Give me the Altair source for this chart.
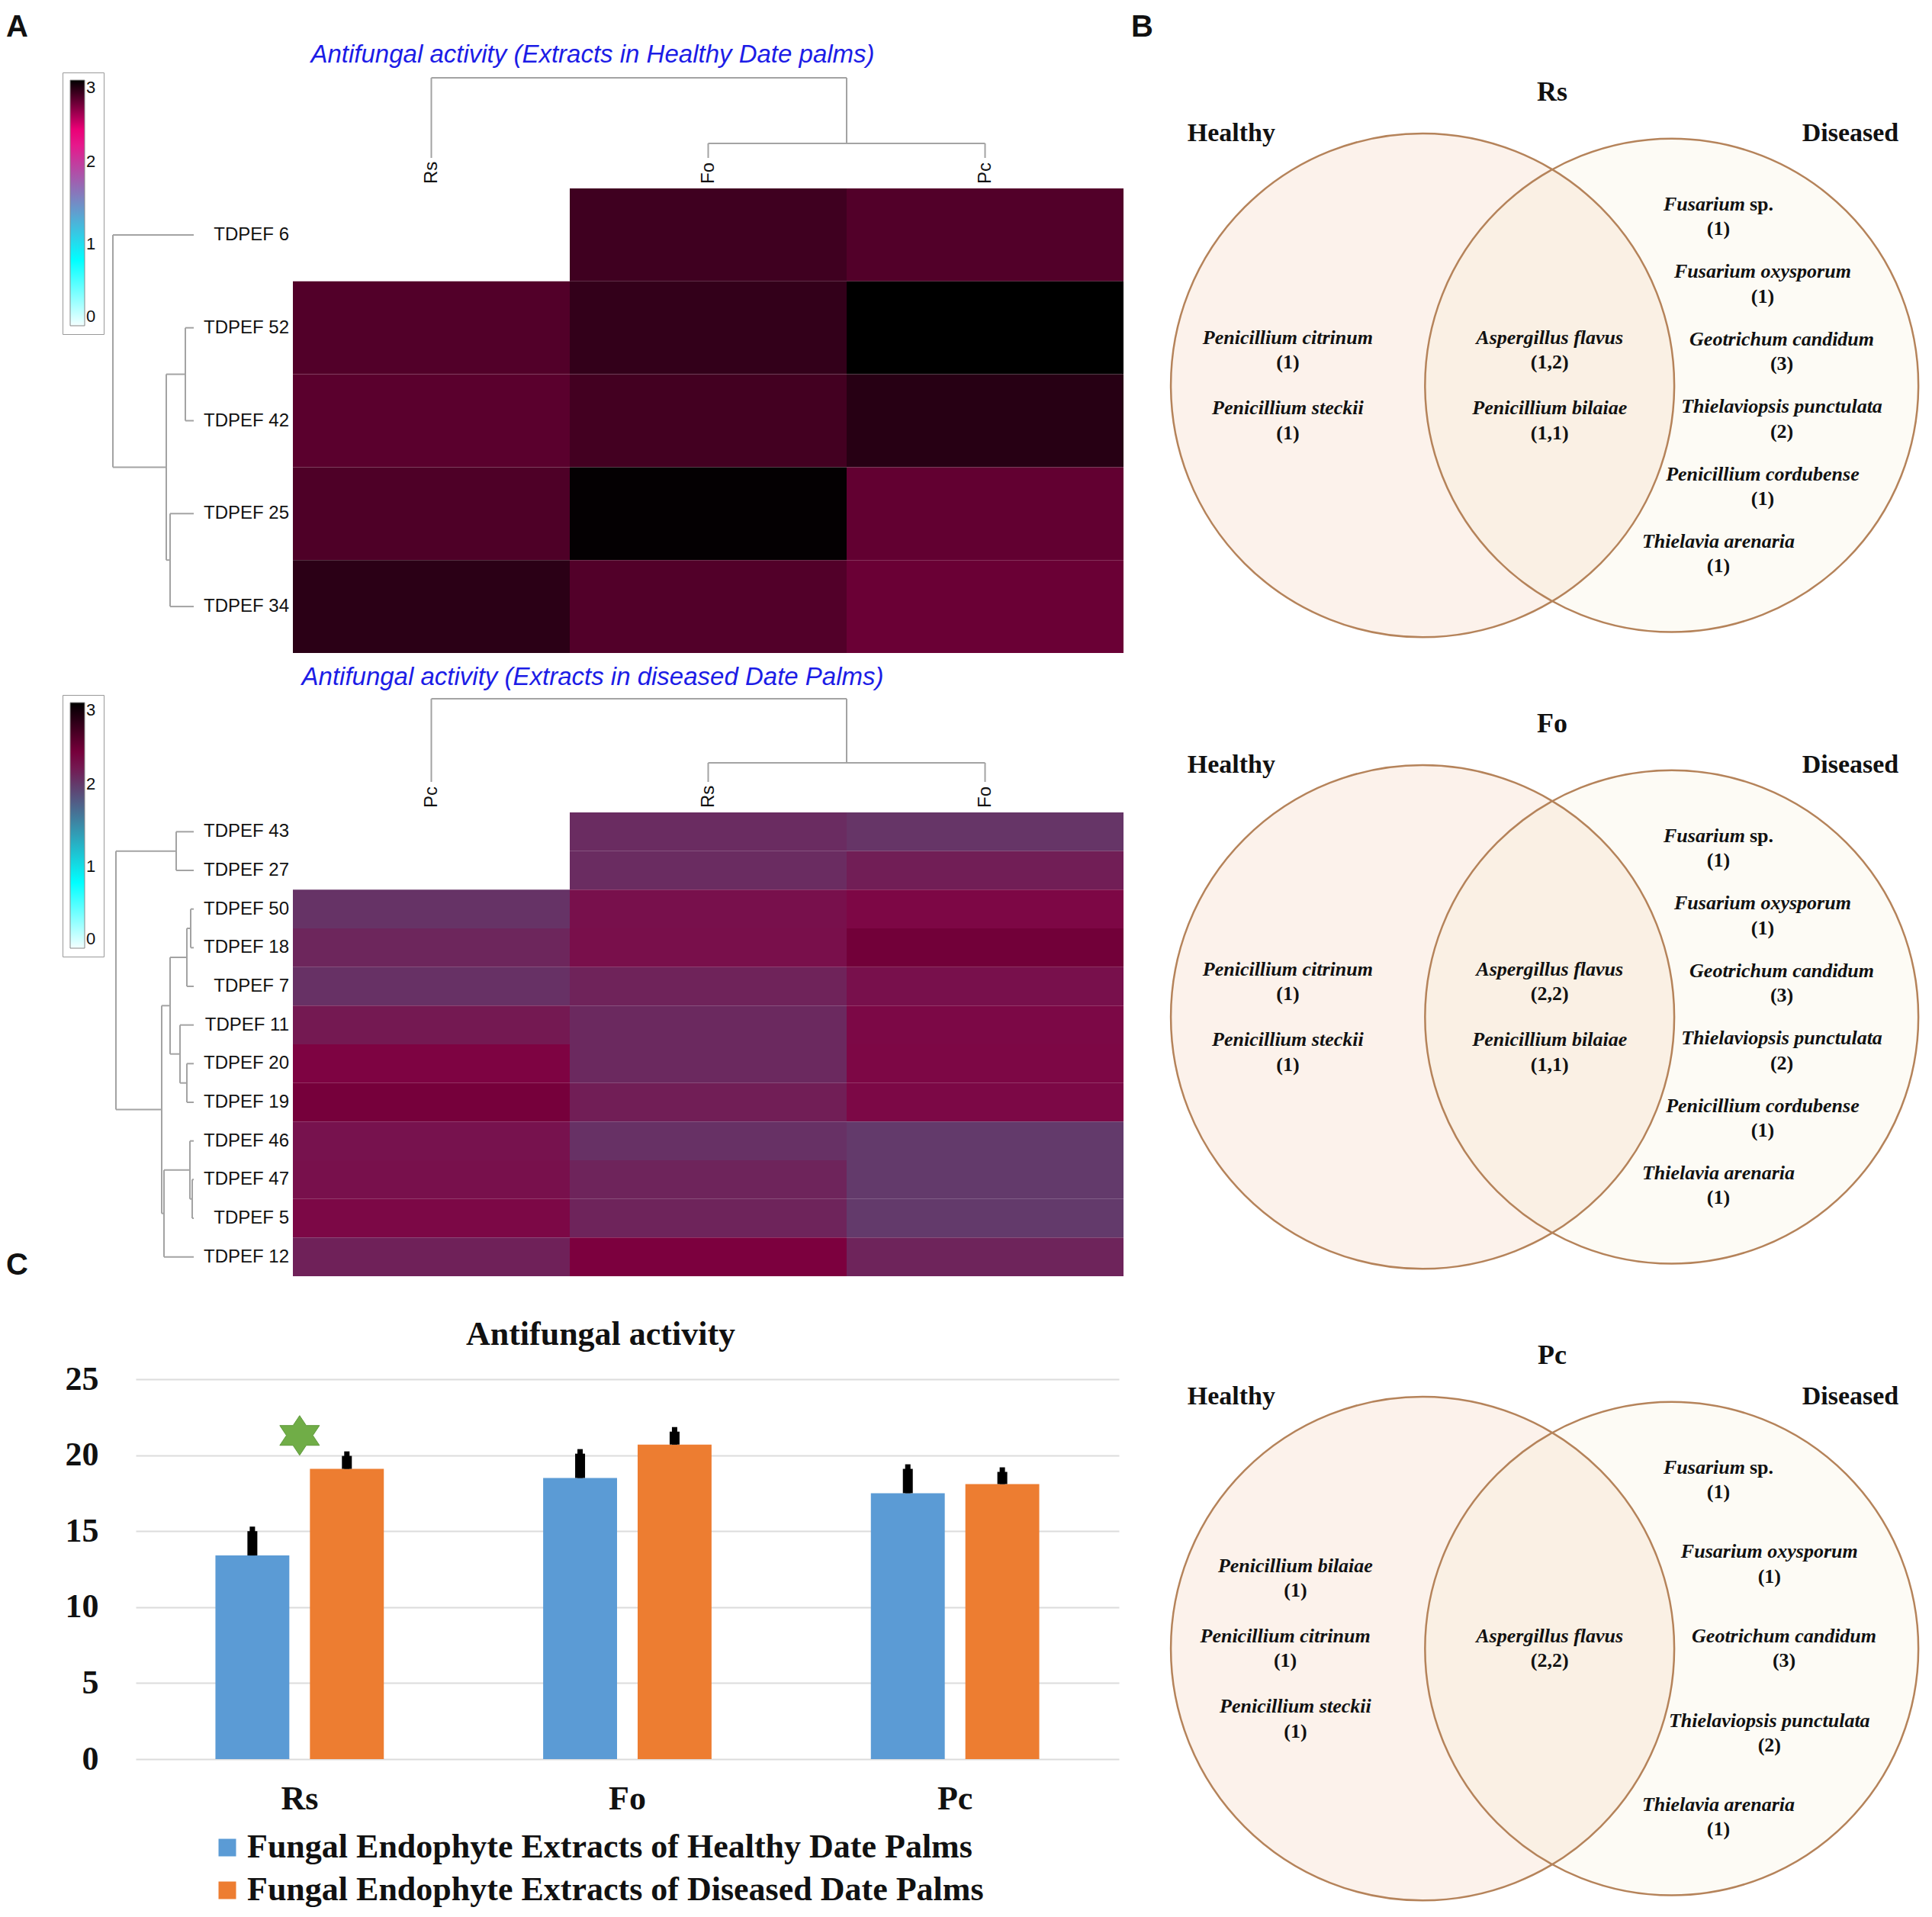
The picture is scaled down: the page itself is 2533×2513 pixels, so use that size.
import math
import altair as alt
import pandas as pd

SERIF = "Liberation Serif"
SANS = "Liberation Sans"

# ---------------- Panel A : heatmaps ----------------
hm1_rows = ["TDPEF 6", "TDPEF 52", "TDPEF 42", "TDPEF 25", "TDPEF 34"]
hm1_cols = ["Rs", "Fo", "Pc"]
hm1_rs = [None, 2.79, 2.77, 2.80, 2.89]
hm1_fo = [2.84, 2.87, 2.83, 2.99, 2.79]
hm1_pc = [2.79, 3.00, 2.90, 2.75, 2.73]
# dendrogram merges: (child a, child b, height); leaves 0..n-1, new nodes n, n+1, ...
hm1_row_links = [(1, 2, 11), (3, 4, 31), (5, 6, 36), (0, 7, 106)]
hm1_col_links = [(1, 2, 19), (0, 3, 105)]

hm2_rows = ["TDPEF 43", "TDPEF 27", "TDPEF 50", "TDPEF 18", "TDPEF 7", "TDPEF 11",
            "TDPEF 20", "TDPEF 19", "TDPEF 46", "TDPEF 47", "TDPEF 5", "TDPEF 12"]
hm2_cols = ["Pc", "Rs", "Fo"]
hm2_pc = [None, None, 2.04, 2.12, 2.05, 2.20, 2.33, 2.40, 2.24, 2.25, 2.30, 2.15]
hm2_rs = [2.08, 2.08, 2.25, 2.26, 2.14, 2.10, 2.10, 2.17, 2.05, 2.13, 2.13, 2.37]
hm2_fo = [2.03, 2.17, 2.31, 2.42, 2.25, 2.30, 2.31, 2.30, 2.00, 2.00, 2.00, 2.13]
hm2_row_links = [(2, 3, 4), (12, 4, 9), (6, 7, 9), (5, 14, 18), (13, 15, 31),
                 (9, 10, 2), (8, 17, 5), (18, 11, 39), (16, 19, 42), (0, 1, 23), (21, 20, 102)]
hm2_col_links = [(1, 2, 25), (0, 3, 109)]

legend_ticks = [0, 1, 2, 3]
color_stops = [0, 0.8, 2.35, 3]

# ---------------- Panel C : bar chart ----------------
pathogens = ["Rs", "Fo", "Pc"]
healthy_mean = [13.4, 18.5, 17.5]
healthy_err = [1.9, 1.9, 1.9]
diseased_mean = [19.1, 20.7, 18.1]
diseased_err = [1.15, 1.15, 1.1]
LEG_H = "Fungal Endophyte Extracts of Healthy Date Palms"
LEG_D = "Fungal Endophyte Extracts of Diseased Date Palms"
star_pathogen = ["Rs"]
star_value = [21.3]
y_ticks = [0, 5, 10, 15, 20, 25]

# ---------------- Panel B : Venn diagrams ----------------
venn_titles = ["Rs", "Fo", "Pc"]
venn_healthy = [
    [("Penicillium citrinum", "(1)"), ("Penicillium steckii", "(1)")],
    [("Penicillium citrinum", "(1)"), ("Penicillium steckii", "(1)")],
    [("Penicillium bilaiae", "(1)"), ("Penicillium citrinum", "(1)"), ("Penicillium steckii", "(1)")],
]
venn_both = [
    [("Aspergillus flavus", "(1,2)"), ("Penicillium bilaiae", "(1,1)")],
    [("Aspergillus flavus", "(2,2)"), ("Penicillium bilaiae", "(1,1)")],
    [("Aspergillus flavus", "(2,2)")],
]
venn_diseased = [
    [("Fusarium sp.", "(1)"), ("Fusarium oxysporum", "(1)"), ("Geotrichum candidum", "(3)"),
     ("Thielaviopsis punctulata", "(2)"), ("Penicillium cordubense", "(1)"), ("Thielavia arenaria", "(1)")],
    [("Fusarium sp.", "(1)"), ("Fusarium oxysporum", "(1)"), ("Geotrichum candidum", "(3)"),
     ("Thielaviopsis punctulata", "(2)"), ("Penicillium cordubense", "(1)"), ("Thielavia arenaria", "(1)")],
    [("Fusarium sp.", "(1)"), ("Fusarium oxysporum", "(1)"), ("Geotrichum candidum", "(3)"),
     ("Thielaviopsis punctulata", "(2)"), ("Thielavia arenaria", "(1)")],
]

# ================= layout / style constants =================
CW = 363          # heatmap cell width (px)
LEFT = 206        # px from plot origin to first cell column
HM_W = 1295
TIP = 130         # row-dendrogram leaf tip distance from cells (px)
CTIP = 40         # column-dendrogram leaf tip distance above cells (px)
DEN_COLOR = "#a3a3a3"
LETTER = dict(font=SANS, fontSize=40, fontWeight="bold", color="#111", align="left")


def dendro_segments(n_leaves, links, leaf_pos):
    pos = {i: leaf_pos[i] for i in range(n_leaves)}
    hgt = {i: 0.0 for i in range(n_leaves)}
    segs = []
    for k, (a, b, h) in enumerate(links):
        node = n_leaves + k
        for c in (a, b):
            segs.append(dict(p=pos[c], p2=pos[c], h=hgt[c], h2=h))
        segs.append(dict(p=pos[a], p2=pos[b], h=h, h2=h))
        pos[node] = (pos[a] + pos[b]) / 2
        hgt[node] = h
    return segs


def label_layer(text, x_px, y_px, baseline, **style):
    return alt.Chart(pd.DataFrame({"t": [text]})).mark_text(baseline=baseline, **style).encode(
        x=alt.value(x_px), y=alt.value(y_px), text="t:N")


def heatmap(rows, cols, col_values, row_links, col_links, mid_color, title,
            row_h, cells_top, field, letters):
    n = len(rows)
    recs = []
    for j, c in enumerate(cols):
        for i, r in enumerate(rows):
            v = col_values[j][i]
            if v is not None:
                recs.append({"c0": j, "c1": j + 1, "r0": i, "r1": i + 1,
                             "row": r, "col": c, field: v})
    cells = pd.DataFrame(recs)
    xs = alt.Scale(domain=[-LEFT / CW, len(cols)], nice=False, zero=False)
    ys = alt.Scale(domain=[-cells_top / row_h, n], nice=False, zero=False, reverse=True)

    rect = alt.Chart(cells).mark_rect().encode(
        x=alt.X("c0:Q", scale=xs, axis=None),
        x2="c1",
        y=alt.Y("r0:Q", scale=ys, axis=None),
        y2="r1",
        color=alt.Color(
            f"{field}:Q", title=None,
            scale=alt.Scale(type="linear", domain=color_stops,
                            range=["#f4ffff", "#00ffff", mid_color, "#000000"],
                            interpolate="rgb"),
            legend=alt.Legend(orient="none", legendX=-96, legendY=0,
                              direction="vertical", gradientLength=322,
                              gradientThickness=19, values=legend_ticks, format="d",
                              labelFont=SANS, labelFontSize=22, labelColor="#111",
                              strokeColor="#999", padding=10,
                              gradientStrokeColor="#888", gradientStrokeWidth=1),
        ),
    )

    tipx = -TIP / CW
    rseg = pd.DataFrame(dendro_segments(n, row_links, [i + 0.5 for i in range(n)]))
    rseg["x"] = tipx - rseg["h"] / CW
    rseg["x2"] = tipx - rseg["h2"] / CW
    rrules = alt.Chart(rseg).mark_rule(color=DEN_COLOR, strokeWidth=2).encode(
        x=alt.X("x:Q", scale=xs, axis=None), x2="x2",
        y=alt.Y("p:Q", scale=ys, axis=None), y2="p2")

    tipy = -CTIP / row_h
    cseg = pd.DataFrame(dendro_segments(len(cols), col_links, [j + 0.5 for j in range(len(cols))]))
    cseg["y"] = tipy - cseg["h"] / row_h
    cseg["y2"] = tipy - cseg["h2"] / row_h
    crules = alt.Chart(cseg).mark_rule(color=DEN_COLOR, strokeWidth=2).encode(
        x=alt.X("p:Q", scale=xs, axis=None), x2="p2",
        y=alt.Y("y:Q", scale=ys, axis=None), y2="y2")

    rlab = pd.DataFrame({"x": [0] * n, "y": [i + 0.5 for i in range(n)], "label": rows})
    rtext = alt.Chart(rlab).mark_text(align="right", baseline="middle", dx=-5,
                                      font=SANS, fontSize=24, color="#111").encode(
        x=alt.X("x:Q", scale=xs, axis=None), y=alt.Y("y:Q", scale=ys, axis=None), text="label:N")

    clab = pd.DataFrame({"x": [j + 0.5 for j in range(len(cols))],
                         "y": [-6 / row_h] * len(cols), "label": cols})
    ctext = alt.Chart(clab).mark_text(align="left", baseline="middle", angle=270,
                                      font=SANS, fontSize=24, color="#111").encode(
        x=alt.X("x:Q", scale=xs, axis=None), y=alt.Y("y:Q", scale=ys, axis=None), text="label:N")

    ttl = label_layer(title, 599, -23, "middle", font=SANS, fontSize=33, fontStyle="italic",
                      color="#1c1ce6", align="center")

    return alt.layer(rect, rrules, crules, rtext, ctext, ttl, *letters).properties(
        width=HM_W, height=round(cells_top + n * row_h))


hm1 = heatmap(hm1_rows, hm1_cols, [hm1_rs, hm1_fo, hm1_pc], hm1_row_links, hm1_col_links,
              "#ff0080", "Antifungal activity (Extracts in Healthy Date palms)", 121.8, 152, "v1",
              [label_layer("A", -170, -79, "top", **LETTER)])
hm2 = heatmap(hm2_rows, hm2_cols, [hm2_pc, hm2_rs, hm2_fo], hm2_row_links, hm2_col_links,
              "#800040", "Antifungal activity (Extracts in diseased Date Palms)", 50.67, 154, "v2",
              [label_layer("C", -170, 768, "bottom", **LETTER)])

# ================= Panel C =================
bar_df = pd.DataFrame({
    "pathogen": pathogens + pathogens,
    "group": [LEG_H] * 3 + [LEG_D] * 3,
    "mean": healthy_mean + diseased_mean,
    "err": healthy_err + diseased_err,
})
CAP = 0.3
bar_df["top"] = bar_df["mean"] + bar_df["err"]
bar_df["top_w"] = bar_df["top"] - CAP

ysc = alt.Scale(domain=[0, 25], nice=False, zero=True)
yax = alt.Axis(values=y_ticks, domain=False, ticks=False, grid=True, gridColor="#dcdcdc",
               gridWidth=2, labelFont=SERIF, labelFontSize=44, labelFontWeight="bold",
               labelColor="#111", labelPadding=49)
xsc = alt.Scale(paddingInner=0, paddingOuter=0)
xax = alt.Axis(labelAngle=0, ticks=False, domain=False, labelFont=SERIF, labelFontSize=44,
               labelFontWeight="bold", labelColor="#111", labelPadding=30)
X = alt.X("pathogen:N", sort=pathogens, scale=xsc, axis=xax, title=None)
XO = alt.XOffset("group:N", sort=[LEG_H, LEG_D],
                 scale=alt.Scale(paddingInner=0.218, paddingOuter=0.843))


def Y(field):
    return alt.Y(f"{field}:Q", scale=ysc, axis=yax, title=None)


base = alt.Chart(bar_df).encode(x=X, xOffset=XO)
bars = base.mark_bar().encode(
    y=Y("mean"),
    color=alt.Color("group:N", title=None,
                    scale=alt.Scale(domain=[LEG_H, LEG_D], range=["#5B9BD5", "#ED7D31"]),
                    legend=alt.Legend(orient="none", legendX=98, legendY=592,
                                      symbolType="square", symbolSize=529,
                                      labelFont=SERIF, labelFontSize=44, labelFontWeight="bold",
                                      labelColor="#111", labelLimit=2000, rowPadding=12,
                                      symbolStrokeWidth=0)),
)
err_n = base.mark_rule(color="black", strokeWidth=7).encode(y=Y("mean"), y2="top:Q")
err_w = base.mark_rule(color="black", strokeWidth=13).encode(y=Y("mean"), y2="top_w:Q")

HEX = ("M0,-1L0.333,-0.5L1,-0.5L0.667,0L1,0.5L0.333,0.5L0,1L-0.333,0.5L-1,0.5"
       "L-0.667,0L-1,-0.5L-0.333,-0.5Z")
star_df = pd.DataFrame({"pathogen": star_pathogen, "y": star_value})
star = alt.Chart(star_df).mark_point(shape=HEX, size=2704, filled=True, fill="#70AD47",
                                     stroke="#5f9a3c", strokeWidth=1, opacity=1, dx=-12).encode(
    x=X, y=Y("y"))

bar = alt.layer(bars, err_w, err_n, star).properties(
    width=1289, height=498,
    title=alt.TitleParams("Antifungal activity", font=SERIF, fontSize=44, fontWeight="bold",
                          color="#111", anchor="middle", dx=-35, offset=14),
)

# ================= Panel B =================
U = 330.0          # px per venn unit (left circle radius)
RL, RR, DC = 1.0, 0.98, 0.99
SP = 0.28          # row spacing of names (shared / healthy-only lists)
SPAN_D = 1.34      # vertical span used by the diseased-only list
WSIDE = 0.45       # relative horizontal placement inside the side regions
HALF = 0.049       # half distance name <-> count
VX = (-1.158, 1.994)
VY = (-1.030, 1.243)
VW, VH = 1040, 750


def region_rows(items, region):
    n = len(items)
    gap = SPAN_D / (n - 1) if (region == "D" and n > 1) else SP
    out = []
    for k, (name, cnt) in enumerate(items):
        yc = ((n - 1) / 2 - k) * gap
        sl = math.sqrt(max(RL ** 2 - yc ** 2, 0))
        sr = math.sqrt(max(RR ** 2 - yc ** 2, 0))
        if region == "H":
            x = -sl + WSIDE * (DC - sr + sl)
        elif region == "B":
            x = (DC - sr + sl) / 2
        else:
            x = sl + WSIDE * (DC + sr - sl)
        parts = name.split(" sp.")
        out.append(dict(x=x, yn=yc + HALF, yc=yc - HALF, name=name, cnt=cnt,
                        genus=parts[0], split=name.endswith(" sp.")))
    return out


def venn(title, h_items, b_items, d_items, letters):
    xs = alt.Scale(domain=list(VX), nice=False, zero=False)
    ys = alt.Scale(domain=list(VY), nice=False, zero=False)
    ex = lambda f: alt.X(f"{f}:Q", scale=xs, axis=None)
    ey = lambda f: alt.Y(f"{f}:Q", scale=ys, axis=None)

    left = pd.DataFrame({"x": [0.0], "y": [0.0]})
    right = pd.DataFrame({"x": [DC], "y": [0.0]})
    both = pd.DataFrame({"x": [0.0, DC], "y": [0.0, 0.0], "r": [RL, RR]})
    fl = alt.Chart(left).mark_circle(fill="#f4c9ad", fillOpacity=0.24, opacity=1,
                                     strokeWidth=0, size=(2 * RL * U) ** 2).encode(
        x=ex("x"), y=ey("y"))
    fr = alt.Chart(right).mark_circle(fill="#f3e6bd", fillOpacity=0.15, opacity=1,
                                      strokeWidth=0, size=(2 * RR * U) ** 2).encode(
        x=ex("x"), y=ey("y"))
    outl = alt.Chart(both).mark_point(shape="circle", filled=False, color="#b5835a",
                                      strokeWidth=2.5, opacity=1).encode(
        x=ex("x"), y=ey("y"),
        size=alt.Size("r:Q", scale=alt.Scale(type="pow", exponent=2, domain=[0, 1],
                                             range=[0, 4 * U ** 2]), legend=None))

    rows = region_rows(h_items, "H") + region_rows(b_items, "B") + region_rows(d_items, "D")
    tdf = pd.DataFrame(rows)
    plain = tdf[~tdf["split"]]
    splt = tdf[tdf["split"]]
    name_style = dict(font=SERIF, fontSize=26, fontWeight="bold", fontStyle="italic",
                      color="#111", baseline="middle")
    names = alt.Chart(plain).mark_text(align="center", **name_style).encode(
        x=ex("x"), y=ey("yn"), text="name:N")
    genus = alt.Chart(splt).mark_text(align="right", dx=35, **name_style).encode(
        x=ex("x"), y=ey("yn"), text="genus:N")
    sp = alt.Chart(splt).mark_text(align="left", dx=41, font=SERIF, fontSize=26,
                                   fontWeight="bold", color="#111", baseline="middle",
                                   text="sp.").encode(x=ex("x"), y=ey("yn"))
    counts = alt.Chart(tdf).mark_text(align="center", font=SERIF, fontSize=26,
                                      fontWeight="bold", color="#111",
                                      baseline="middle").encode(
        x=ex("x"), y=ey("yc"), text="cnt:N")
    hd = pd.DataFrame({"x": [-0.76, DC + 0.71], "y": [RL, RL], "t": ["Healthy", "Diseased"]})
    hdt = alt.Chart(hd).mark_text(font=SERIF, fontSize=34, fontWeight="bold", color="#111",
                                  baseline="middle").encode(x=ex("x"), y=ey("y"), text="t:N")
    ttl = label_layer(title, 552, 26, "middle", font=SERIF, fontSize=36, fontWeight="bold",
                      color="#111", align="center")

    return alt.layer(fl, fr, outl, names, genus, sp, counts, hdt, ttl, *letters).properties(
        width=VW, height=VH)


venns = [venn(venn_titles[i], venn_healthy[i], venn_both[i], venn_diseased[i],
              [label_layer("B", 0, -79, "top", **LETTER)] if i == 0 else [])
         for i in range(3)]

RES = dict(color="independent", x="independent", y="independent", size="independent")

hm_col = alt.vconcat(hm1, hm2, spacing=16).resolve_scale(**RES)
left_col = alt.vconcat(hm_col, bar, spacing=49).resolve_scale(**RES)
right_col = alt.vconcat(*venns, spacing=78).resolve_scale(**RES)

chart = alt.hconcat(left_col, right_col, spacing=10).resolve_scale(**RES).properties(
    padding={"left": 0, "top": 8, "right": 0, "bottom": 0},
    background="white",
).configure_view(strokeWidth=0)

chart.save("out.html", embed_options={"renderer": "svg", "actions": False})
